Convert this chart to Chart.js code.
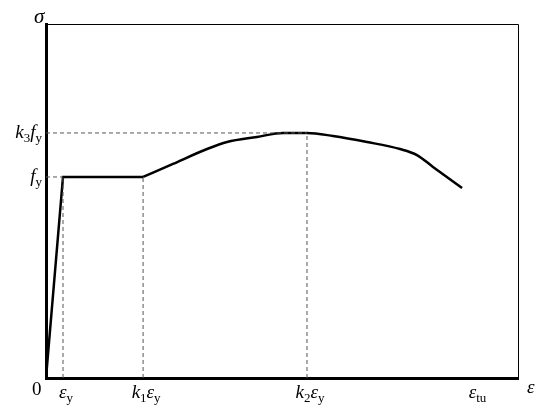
<!DOCTYPE html>
<html>
<head>
<meta charset="utf-8">
<script src="https://cdn.jsdelivr.net/npm/chart.js@4"></script>
<style>
  body { margin: 0; background: #fff; }
</style>
</head>
<body>
<canvas id="chart" width="550" height="413"></canvas>
<script>
// strain in units of eps_y, stress in units of f_y
const strain = [0, 1, 5.71, 7.47, 9.47, 10.65, 12.41, 13.94, 15.35, 16.88, 18.88, 20.82, 21.82, 22.76, 24.47];
const stress = [0, 1, 1, 1.065, 1.139, 1.174, 1.199, 1.219, 1.219, 1.204, 1.174, 1.139, 1.109, 1.050, 0.945];
const plateauEnd = 2; // index where hardening branch starts

const xTicks = [1, 5.71, 15.35, 25.2];
const xTickLabels = ['ε{y}', 'k{1}ε{y}', 'k{2}ε{y}', 'ε{tu}'];
const yTicks = [1, 1.219];
const yTickLabels = ['f{y}', 'k{3}f{y}'];
const xMax = 27.76, yMax = 1.761;

const toPts = (xs, ys) => xs.map((x, i) => ({ x: x, y: ys[i] }));

// dashed guide lines from the tick values
const guides = [
  [{ x: xTicks[0], y: 0 }, { x: xTicks[0], y: yTicks[0] }],
  [{ x: xTicks[1], y: 0 }, { x: xTicks[1], y: yTicks[0] }],
  [{ x: xTicks[2], y: 0 }, { x: xTicks[2], y: yTicks[1] }],
  [{ x: 0, y: yTicks[0] }, { x: xTicks[0], y: yTicks[0] }],
  [{ x: 0, y: yTicks[1] }, { x: xTicks[2], y: yTicks[1] }]
].map(d => ({
  data: d, borderColor: '#555', borderWidth: 1, borderDash: [4, 3], pointRadius: 0, tension: 0
}));

// draws "k{1}ε{y}" style text: braces mark upright subscripts
function drawRich(ctx, str, x, y, align, size) {
  const parts = [];
  str.replace(/([^{]+)|\{([^}]*)\}/g, (m, main, sub) => {
    if (main) parts.push({ t: main, sub: false });
    else parts.push({ t: sub, sub: true });
  });
  const mainFont = 'italic ' + size + 'px "Liberation Serif", "DejaVu Serif", serif';
  const subFont = Math.round(size * 0.68) + 'px "Liberation Serif", "DejaVu Serif", serif';
  let w = 0;
  parts.forEach(p => { ctx.font = p.sub ? subFont : mainFont; p.w = ctx.measureText(p.t).width; w += p.w; });
  let cx = align === 'right' ? x - w : align === 'center' ? x - w / 2 : x;
  ctx.textAlign = 'left';
  ctx.textBaseline = 'alphabetic';
  parts.forEach(p => {
    ctx.font = p.sub ? subFont : mainFont;
    ctx.fillText(p.t, cx, p.sub ? y + 4 : y);
    cx += p.w;
  });
}

const labelsPlugin = {
  id: 'labels',
  afterDraw(chart) {
    const ctx = chart.ctx, a = chart.chartArea;
    const xs = chart.scales.x, ys = chart.scales.y;
    ctx.save();
    ctx.strokeStyle = '#000';
    ctx.lineWidth = 1;
    ctx.beginPath();
    ctx.moveTo(a.left, a.top + 0.5);
    ctx.lineTo(a.right + 0.5, a.top + 0.5);
    ctx.lineTo(a.right + 0.5, a.bottom);
    ctx.stroke();
    ctx.fillStyle = '#000';
    xTicks.forEach((v, i) => drawRich(ctx, xTickLabels[i], xs.getPixelForValue(v) + 3, 398, 'center', 19));
    yTicks.forEach((v, i) => drawRich(ctx, yTickLabels[i], 42, ys.getPixelForValue(v) + 5, 'right', 19));
    ctx.font = '19px "Liberation Serif", serif';
    ctx.fillText('0', 32, 395);
    ctx.font = 'italic 21px "Liberation Serif", serif';
    ctx.fillText('σ', 34, 23);
    ctx.font = 'italic 19px "Liberation Serif", serif';
    ctx.fillText('ε', 527, 393);
    ctx.restore();
  }
};

new Chart(document.getElementById('chart'), {
  type: 'line',
  data: {
    datasets: [
      ...guides,
      {
        data: toPts(strain.slice(0, plateauEnd + 1), stress.slice(0, plateauEnd + 1)),
        borderColor: '#000', borderWidth: 2.5, pointRadius: 0, tension: 0
      },
      {
        data: toPts(strain.slice(plateauEnd), stress.slice(plateauEnd)),
        borderColor: '#000', borderWidth: 2.5, pointRadius: 0, cubicInterpolationMode: 'monotone'
      }
    ]
  },
  options: {
    responsive: false,
    animation: false,
    layout: { padding: { left: 38, right: 32, top: 24, bottom: 27 } },
    plugins: { legend: { display: false }, tooltip: { enabled: false } },
    scales: {
      x: {
        type: 'linear', min: 0, max: xMax,
        grid: { display: false },
        border: { color: '#000', width: 3 },
        ticks: { display: false }
      },
      y: {
        type: 'linear', min: 0, max: yMax,
        grid: { display: false },
        border: { color: '#000', width: 3 },
        ticks: { display: false }
      }
    }
  },
  plugins: [labelsPlugin]
});
</script>
</body>
</html>
